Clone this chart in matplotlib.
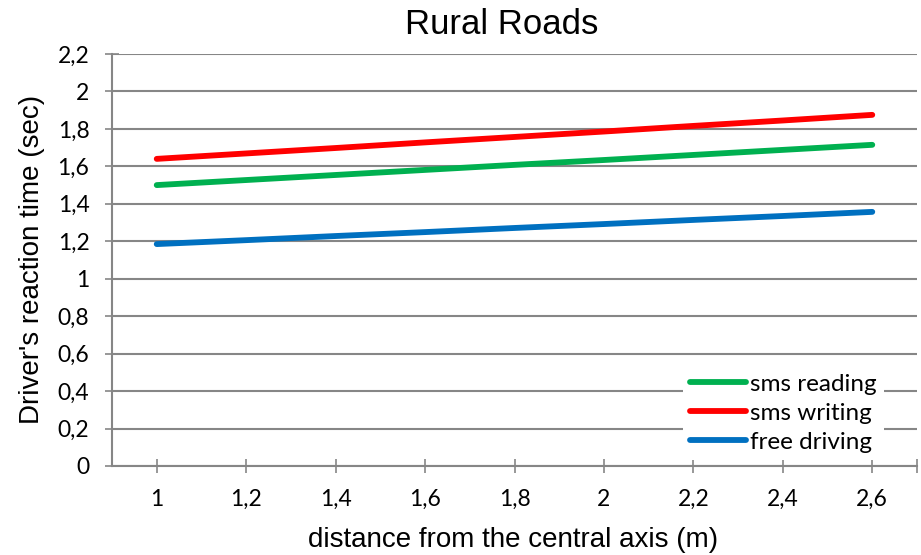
import matplotlib.pyplot as plt
import numpy as np

# distance from the central axis (m) and reaction time (sec)
distance = [1.0, 1.2, 1.4, 1.6, 1.8, 2.0, 2.2, 2.4, 2.6]
sms_reading = [1.50, 1.527, 1.554, 1.581, 1.608, 1.634, 1.661, 1.688, 1.715]
sms_writing = [1.64, 1.669, 1.698, 1.728, 1.757, 1.786, 1.816, 1.845, 1.875]
free_driving = [1.185, 1.206, 1.228, 1.249, 1.271, 1.292, 1.314, 1.335, 1.357]

x_ticks = [1.0, 1.2, 1.4, 1.6, 1.8, 2.0, 2.2, 2.4, 2.6]
y_ticks = [0, 0.2, 0.4, 0.6, 0.8, 1.0, 1.2, 1.4, 1.6, 1.8, 2.0, 2.2]

grey = '#868686'
tick_font = 'Lato'

def comma(v):
    s = ('%.1f' % v).rstrip('0').rstrip('.')
    return s.replace('.', ',')

fig = plt.figure(figsize=(9.21, 5.55), dpi=100)
ax = fig.add_axes([112/921, 1-466/555, 805/921, 412/555])

ax.plot(distance, sms_reading, color='#00B050', lw=4.2, solid_capstyle='round', label='sms reading', zorder=3)
ax.plot(distance, sms_writing, color='#FF0000', lw=4.2, solid_capstyle='round', label='sms writing', zorder=3)
ax.plot(distance, free_driving, color='#0070C0', lw=4.2, solid_capstyle='round', label='free driving', zorder=3)

ax.set_xlim(0.9, 2.7)
ax.set_ylim(0, 2.2)
ax.set_xticks(x_ticks + [2.7])
ax.set_xticklabels([comma(v) for v in x_ticks] + [''])
ax.set_yticks(y_ticks)
ax.set_yticklabels([comma(v) for v in y_ticks])

ax.grid(axis='y', color=grey, lw=1.5)
ax.set_axisbelow(True)
for side in ['top', 'right']:
    ax.spines[side].set_visible(False)
for side in ['left', 'bottom']:
    ax.spines[side].set_color(grey)
    ax.spines[side].set_linewidth(1.5)

ax.tick_params(axis='both', direction='inout', length=10.5, width=1.2, color=grey,
               labelsize=16.5, pad=11)
for lab in ax.get_xticklabels() + ax.get_yticklabels():
    lab.set_fontfamily(tick_font)

leg = ax.legend(loc='center', bbox_to_anchor=(0.834, 0.128), prop={'family': tick_font, 'size': 17.5},
                frameon=True, fancybox=False, edgecolor='none', facecolor='white', framealpha=1,
                handlelength=2.3, handletextpad=0.15, labelspacing=0.32, borderpad=0.3, borderaxespad=0)
leg.set_zorder(5)

fig.text(501.7/921, 1-25/555, 'Rural Roads', family='Liberation Sans', fontsize=25, ha='center', va='center')
fig.text(513.5/921, 1-540/555, 'distance from the central axis (m)', family='Liberation Sans',
         fontsize=20, ha='center', va='center')
fig.text(32/921, 1-259/555, "Driver's reaction time (sec)", family='Liberation Sans',
         fontsize=20, rotation=90, ha='center', va='center')

fig.savefig('out.png', dpi=100)
